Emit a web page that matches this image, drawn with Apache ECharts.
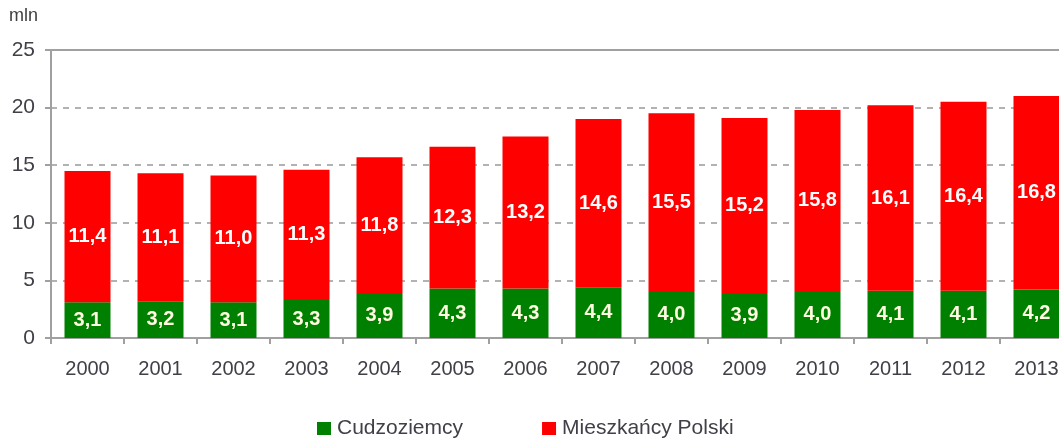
<!DOCTYPE html>
<html><head><meta charset="utf-8">
<script src="https://cdn.jsdelivr.net/npm/echarts@6/dist/echarts.min.js"></script>
<style>html,body{margin:0;padding:0;background:#fff;overflow:hidden;width:1059px;height:441px}#c{width:1073px;height:441px}</style>
</head><body><div id="c"></div>
<script>
const categories = ['2000','2001','2002','2003','2004','2005','2006','2007','2008','2009','2010','2011','2012','2013'];
const foreigners = [3.1,3.2,3.1,3.3,3.9,4.3,4.3,4.4,4.0,3.9,4.0,4.1,4.1,4.2];
const residents = [11.4,11.1,11.0,11.3,11.8,12.3,13.2,14.6,15.5,15.2,15.8,16.1,16.4,16.8];
const yTicks = [0,5,10,15,20,25];
const seriesNames = ['Cudzoziemcy','Mieszkańcy Polski'];

const fmt = p => p.value.toFixed(1).replace('.', ',');
const font = 'Liberation Sans, Arial, sans-serif';
const chart = echarts.init(document.getElementById('c'));
chart.setOption({
  animation: false,
  textStyle: {fontFamily: font},
  graphic: [{type:'text', left: 9, top: 7, style:{text:'mln', fill:'#404040', font:'18px ' + font}}],
  legend: {
    top: 413, left: 312, itemGap: 79, itemWidth: 14, itemHeight: 13, icon: 'rect',
    textStyle: {fontSize: 21, color: '#404048', padding: [0,0,0,1]},
    data: seriesNames
  },
  grid: {left: 51, top: 50, width: 1022, height: 288},
  xAxis: [{
    type: 'category', data: categories,
    axisLine: {lineStyle: {color: '#a0a0a0', width: 2}},
    axisTick: {show: true, length: 6, lineStyle: {color: '#a0a0a0', width: 2}},
    axisLabel: {fontSize: 20, color: '#404048', margin: 21}
  },{
    type: 'category', data: categories, position: 'top',
    axisLine: {show: true, lineStyle: {color: '#a0a0a0', width: 2}},
    axisTick: {show: false}, axisLabel: {show: false}
  }],
  yAxis: {
    type: 'value', min: yTicks[0], max: yTicks[yTicks.length-1], interval: 5,
    axisLine: {show: true, lineStyle: {color: '#a0a0a0', width: 2}},
    axisTick: {show: true, length: 6, lineStyle: {color: '#a0a0a0', width: 2}},
    axisLabel: {fontSize: 21, color: '#404048', margin: 16},
    splitLine: {show: true, lineStyle: {color: '#999', type: [6, 6], width: 1.5}}
  },
  series: [{
    name: seriesNames[0], type: 'bar', stack: 's', data: foreigners, barWidth: 46,
    itemStyle: {color: '#008000'},
    label: {show: true, position: 'inside', formatter: fmt, color: '#fffbe0', fontSize: 20, fontWeight: 'bold'}
  },{
    name: seriesNames[1], type: 'bar', stack: 's', data: residents, barWidth: 46,
    itemStyle: {color: '#ff0000'},
    label: {show: true, position: 'inside', formatter: fmt, color: '#fff', fontSize: 20, fontWeight: 'bold'}
  }]
});
</script></body></html>
